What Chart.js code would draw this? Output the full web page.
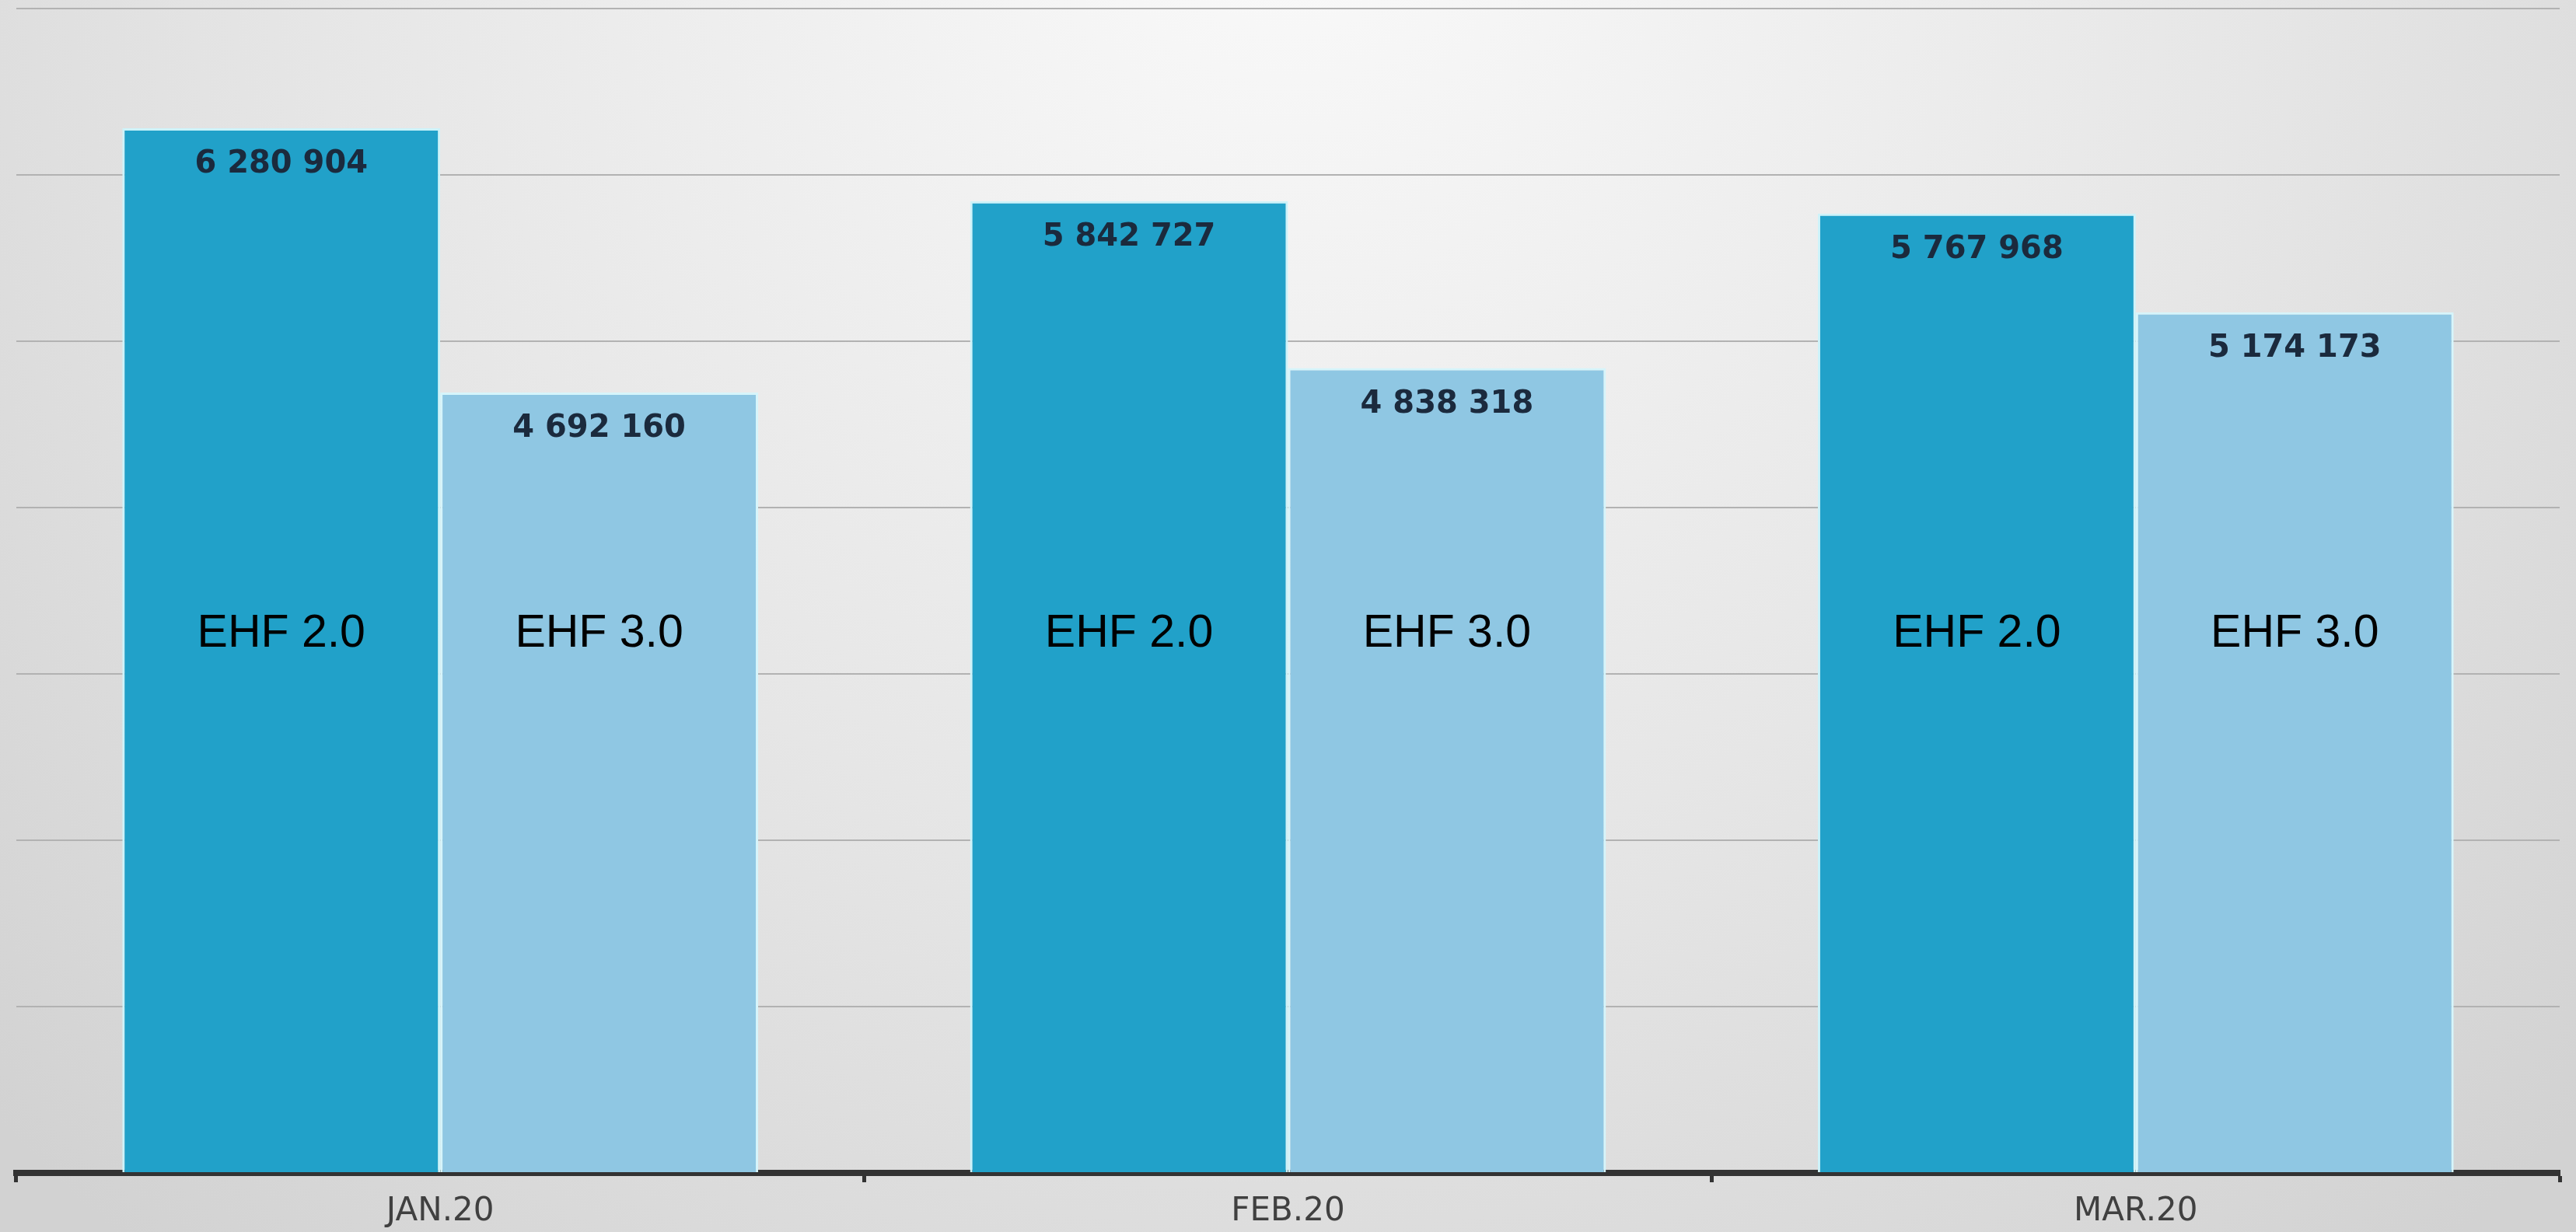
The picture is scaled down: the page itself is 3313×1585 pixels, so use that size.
<!DOCTYPE html>
<html>
<head>
<meta charset="utf-8">
<script src="https://cdn.jsdelivr.net/npm/chart.js@4/dist/chart.umd.min.js"></script>
<style>
  html, body { margin: 0; padding: 0; background: #e6e6e6; }
  canvas { display: block; }
</style>
</head>
<body>
<canvas id="ehfChart" width="3313" height="1585"></canvas>
<script>
const months = ["JAN.20", "FEB.20", "MAR.20"];
const seriesNames = ["EHF 2.0", "EHF 3.0"];
const ehf2Values = [6280904, 5842727, 5767968];
const ehf3Values = [4692160, 4838318, 5174173];

// numbers in the picture use a space as thousands separator
const formatValue = (v) => String(v).replace(/\B(?=(\d{3})+(?!\d))/g, " ");

// grey backdrop, lighter towards the top middle
const backdrop = {
  id: "backdrop",
  beforeDraw(chart) {
    const { ctx, width, height } = chart;
    const g = ctx.createRadialGradient(width * 0.5, -150, 0, width * 0.5, -150, 2300);
    g.addColorStop(0, "#fafafa");
    g.addColorStop(0.55, "#e6e6e6");
    g.addColorStop(1, "#d2d2d2");
    ctx.save();
    ctx.fillStyle = g;
    ctx.fillRect(0, 0, width, height);
    ctx.restore();
  },
};

// value inside top of each bar + series name in the middle of each bar
const barTexts = {
  id: "barTexts",
  afterDatasetsDraw(chart) {
    const { ctx } = chart;
    const yScale = chart.scales.y;
    const nameY = yScale.getPixelForValue(3240000);
    ctx.save();
    ctx.textAlign = "center";
    ctx.textBaseline = "middle";
    chart.data.datasets.forEach((ds, i) => {
      chart.getDatasetMeta(i).data.forEach((bar, j) => {
        ctx.fillStyle = "#1b2a3d";
        ctx.font = "bold 40px 'DejaVu Sans', Verdana, sans-serif";
        ctx.fillText(formatValue(ds.data[j]), bar.x, bar.y + 47);
        ctx.fillStyle = "#000000";
        ctx.font = "59px 'Liberation Sans', Arial, sans-serif";
        ctx.fillText(ds.label, bar.x, nameY);
      });
    });
    ctx.restore();
  },
};

new Chart(document.getElementById("ehfChart"), {
  type: "bar",
  data: {
    labels: months,
    datasets: [
      {
        label: seriesNames[0],
        data: ehf2Values,
        backgroundColor: "#21a1c9",
        borderColor: "#cdf3fa",
        borderWidth: 3,
      },
      {
        label: seriesNames[1],
        data: ehf3Values,
        backgroundColor: "#8fc7e3",
        borderColor: "#d6f5fb",
        borderWidth: 3,
      },
    ],
  },
  options: {
    responsive: false,
    animation: false,
    devicePixelRatio: 1,
    categoryPercentage: 0.75,
    barPercentage: 1.0,
    layout: { padding: { top: 11, left: 21, right: 21, bottom: 0 } },
    plugins: {
      legend: { display: false },
      tooltip: { enabled: false },
    },
    scales: {
      x: {
        afterFit: (scale) => { scale.height = 76; },
        grid: {
          display: true,
          drawOnChartArea: false,
          drawTicks: true,
          tickLength: 12,
          tickWidth: 5,
          tickColor: "#333333",
        },
        border: { display: true, color: "#333333", width: 8 },
        ticks: {
          color: "#404040",
          padding: 23,
          font: { family: "'DejaVu Sans', Verdana, sans-serif", size: 42, lineHeight: 0.7 },
        },
      },
      y: {
        min: 0,
        max: 7000000,
        ticks: { display: false, stepSize: 1000000 },
        grid: { color: "#b2b2b2", lineWidth: 2, drawTicks: false },
        border: { display: false },
      },
    },
  },
  plugins: [backdrop, barTexts],
});
</script>
</body>
</html>
